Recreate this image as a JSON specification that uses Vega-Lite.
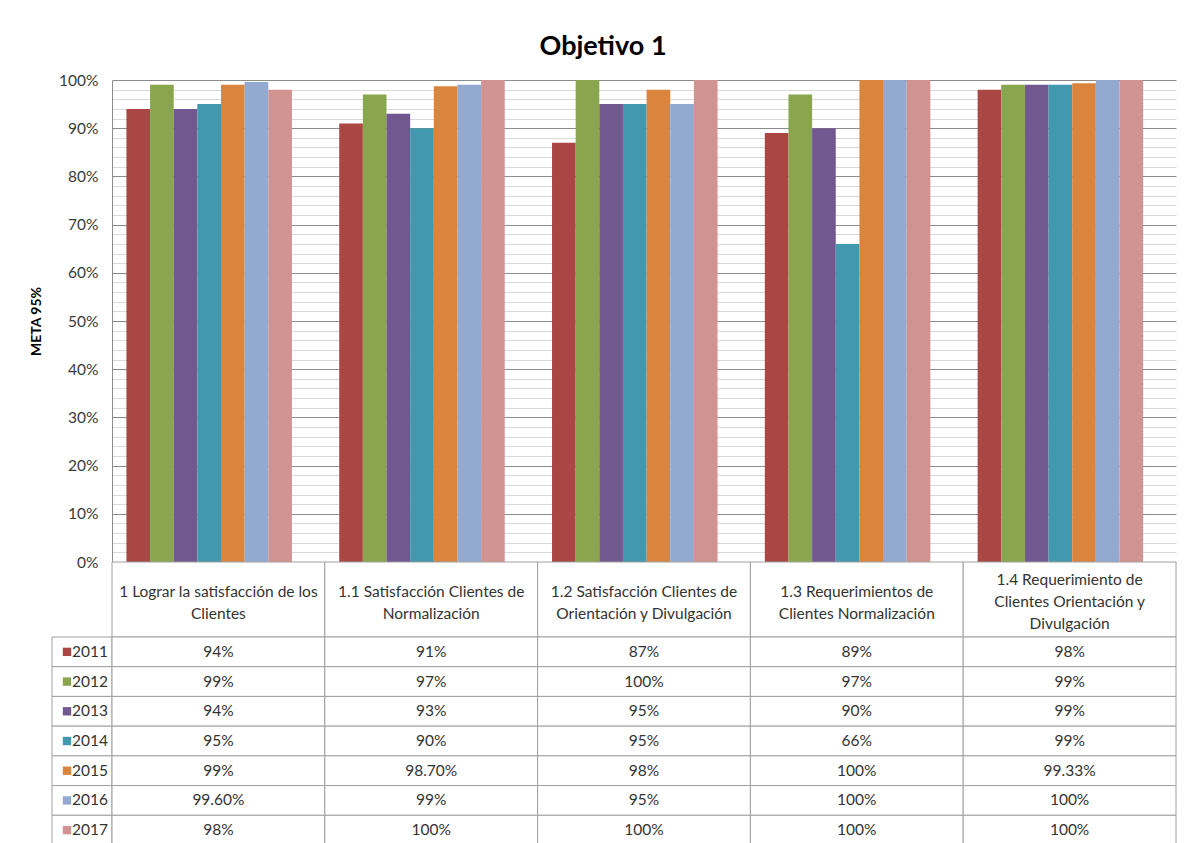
{
  "$schema": "https://vega.github.io/schema/vega-lite/v6.json",
  "padding": {"left": 29, "top": 33, "right": 8, "bottom": 0},
  "background": "white",
  "title": {"text": "Objetivo 1", "font": "Lato", "fontSize": 27, "fontWeight": "bold", "color": "#000000", "anchor": "middle", "offset": 12},
  "config": {
    "view": {"stroke": null},
    "font": "Lato",
    "axis": {"labelFont": "Lato", "titleFont": "Lato"}
  },
  "datasets": {
    "bars": [
      {"cat": "1 Lograr la satisfacción de los Clientes", "year": "2011", "value": 0.94, "label": "94%"},
      {"cat": "1 Lograr la satisfacción de los Clientes", "year": "2012", "value": 0.99, "label": "99%"},
      {"cat": "1 Lograr la satisfacción de los Clientes", "year": "2013", "value": 0.94, "label": "94%"},
      {"cat": "1 Lograr la satisfacción de los Clientes", "year": "2014", "value": 0.95, "label": "95%"},
      {"cat": "1 Lograr la satisfacción de los Clientes", "year": "2015", "value": 0.99, "label": "99%"},
      {"cat": "1 Lograr la satisfacción de los Clientes", "year": "2016", "value": 0.996, "label": "99.60%"},
      {"cat": "1 Lograr la satisfacción de los Clientes", "year": "2017", "value": 0.98, "label": "98%"},
      {"cat": "1.1 Satisfacción Clientes de Normalización", "year": "2011", "value": 0.91, "label": "91%"},
      {"cat": "1.1 Satisfacción Clientes de Normalización", "year": "2012", "value": 0.97, "label": "97%"},
      {"cat": "1.1 Satisfacción Clientes de Normalización", "year": "2013", "value": 0.93, "label": "93%"},
      {"cat": "1.1 Satisfacción Clientes de Normalización", "year": "2014", "value": 0.90, "label": "90%"},
      {"cat": "1.1 Satisfacción Clientes de Normalización", "year": "2015", "value": 0.987, "label": "98.70%"},
      {"cat": "1.1 Satisfacción Clientes de Normalización", "year": "2016", "value": 0.99, "label": "99%"},
      {"cat": "1.1 Satisfacción Clientes de Normalización", "year": "2017", "value": 1.0, "label": "100%"},
      {"cat": "1.2 Satisfacción Clientes de Orientación y Divulgación", "year": "2011", "value": 0.87, "label": "87%"},
      {"cat": "1.2 Satisfacción Clientes de Orientación y Divulgación", "year": "2012", "value": 1.0, "label": "100%"},
      {"cat": "1.2 Satisfacción Clientes de Orientación y Divulgación", "year": "2013", "value": 0.95, "label": "95%"},
      {"cat": "1.2 Satisfacción Clientes de Orientación y Divulgación", "year": "2014", "value": 0.95, "label": "95%"},
      {"cat": "1.2 Satisfacción Clientes de Orientación y Divulgación", "year": "2015", "value": 0.98, "label": "98%"},
      {"cat": "1.2 Satisfacción Clientes de Orientación y Divulgación", "year": "2016", "value": 0.95, "label": "95%"},
      {"cat": "1.2 Satisfacción Clientes de Orientación y Divulgación", "year": "2017", "value": 1.0, "label": "100%"},
      {"cat": "1.3 Requerimientos de Clientes Normalización", "year": "2011", "value": 0.89, "label": "89%"},
      {"cat": "1.3 Requerimientos de Clientes Normalización", "year": "2012", "value": 0.97, "label": "97%"},
      {"cat": "1.3 Requerimientos de Clientes Normalización", "year": "2013", "value": 0.90, "label": "90%"},
      {"cat": "1.3 Requerimientos de Clientes Normalización", "year": "2014", "value": 0.66, "label": "66%"},
      {"cat": "1.3 Requerimientos de Clientes Normalización", "year": "2015", "value": 1.0, "label": "100%"},
      {"cat": "1.3 Requerimientos de Clientes Normalización", "year": "2016", "value": 1.0, "label": "100%"},
      {"cat": "1.3 Requerimientos de Clientes Normalización", "year": "2017", "value": 1.0, "label": "100%"},
      {"cat": "1.4 Requerimiento de Clientes Orientación y Divulgación", "year": "2011", "value": 0.98, "label": "98%"},
      {"cat": "1.4 Requerimiento de Clientes Orientación y Divulgación", "year": "2012", "value": 0.99, "label": "99%"},
      {"cat": "1.4 Requerimiento de Clientes Orientación y Divulgación", "year": "2013", "value": 0.99, "label": "99%"},
      {"cat": "1.4 Requerimiento de Clientes Orientación y Divulgación", "year": "2014", "value": 0.99, "label": "99%"},
      {"cat": "1.4 Requerimiento de Clientes Orientación y Divulgación", "year": "2015", "value": 0.9933, "label": "99.33%"},
      {"cat": "1.4 Requerimiento de Clientes Orientación y Divulgación", "year": "2016", "value": 1.0, "label": "100%"},
      {"cat": "1.4 Requerimiento de Clientes Orientación y Divulgación", "year": "2017", "value": 1.0, "label": "100%"}
    ],
    "header": [
      {"cat": "1 Lograr la satisfacción de los Clientes", "label": "1 Lograr la satisfacción de los\nClientes"},
      {"cat": "1.1 Satisfacción Clientes de Normalización", "label": "1.1 Satisfacción Clientes de\nNormalización"},
      {"cat": "1.2 Satisfacción Clientes de Orientación y Divulgación", "label": "1.2 Satisfacción Clientes de\nOrientación y Divulgación"},
      {"cat": "1.3 Requerimientos de Clientes Normalización", "label": "1.3 Requerimientos de\nClientes Normalización"},
      {"cat": "1.4 Requerimiento de Clientes Orientación y Divulgación", "label": "1.4 Requerimiento de\nClientes Orientación y\nDivulgación"}
    ],
    "years": [
      {"year": "2011"}, {"year": "2012"}, {"year": "2013"}, {"year": "2014"},
      {"year": "2015"}, {"year": "2016"}, {"year": "2017"}
    ]
  },
  "columns": 2,
  "spacing": 0,
  "bounds": "flush",
  "concat": [
    {
      "width": 60, "height": 482,
      "data": {"values": []},
      "mark": {"type": "point", "opacity": 0},
      "encoding": {}
    },
    {
      "width": 1064, "height": 482,
      "data": {"name": "bars"},
      "mark": {"type": "bar"},
      "encoding": {
        "x": {"field": "cat", "type": "nominal", "axis": null,
              "scale": {"domain": ["1 Lograr la satisfacción de los Clientes", "1.1 Satisfacción Clientes de Normalización", "1.2 Satisfacción Clientes de Orientación y Divulgación", "1.3 Requerimientos de Clientes Normalización", "1.4 Requerimiento de Clientes Orientación y Divulgación"], "paddingInner": 0, "paddingOuter": 0}},
        "xOffset": {"field": "year", "type": "nominal",
              "scale": {"domain": ["2011", "2012", "2013", "2014", "2015", "2016", "2017"], "paddingInner": 0, "paddingOuter": 1.245, "align": 0.305}},
        "y": {"field": "value", "type": "quantitative",
              "scale": {"domain": [0, 1], "nice": false},
              "axis": {
                "title": "META 95%", "titleFontSize": 14, "titleFontWeight": "bold", "titleColor": "#000000", "titlePadding": 15,
                "values": [0, 0.02, 0.04, 0.06, 0.08, 0.1, 0.12, 0.14, 0.16, 0.18, 0.2, 0.22, 0.24, 0.26, 0.28, 0.3, 0.32, 0.34, 0.36, 0.38, 0.4, 0.42, 0.44, 0.46, 0.48, 0.5, 0.52, 0.54, 0.56, 0.58, 0.6, 0.62, 0.64, 0.66, 0.68, 0.7, 0.72, 0.74, 0.76, 0.78, 0.8, 0.82, 0.84, 0.86, 0.88, 0.9, 0.92, 0.94, 0.96, 0.98, 1],
                "format": ".0%",
                "labelExpr": "round(datum.value * 100) % 10 === 0 ? datum.label : ''",
                "labelFontSize": 15.5, "labelColor": "#3a3a3a", "labelPadding": 14,
                "ticks": false,
                "domainColor": "#8c8c8c",
                "grid": true,
                "gridColor": {"condition": {"test": "round(datum.value * 100) % 10 === 0", "value": "#8c8c8c"}, "value": "#d9d9d9"},
                "gridWidth": 1
              }},
        "color": {"field": "year", "type": "nominal", "legend": null,
              "scale": {"domain": ["2011", "2012", "2013", "2014", "2015", "2016", "2017"], "range": ["#AA4643", "#89A54E", "#71588F", "#4198AF", "#DB843D", "#93A9CF", "#D19392"]}}
      }
    },
    {
      "width": 60, "height": 75,
      "data": {"values": []},
      "mark": {"type": "point", "opacity": 0},
      "encoding": {}
    },
    {
      "width": 1064, "height": 75,
      "data": {"name": "header"},
      "encoding": {
        "x": {"field": "cat", "type": "nominal", "axis": null,
              "scale": {"domain": ["1 Lograr la satisfacción de los Clientes", "1.1 Satisfacción Clientes de Normalización", "1.2 Satisfacción Clientes de Orientación y Divulgación", "1.3 Requerimientos de Clientes Normalización", "1.4 Requerimiento de Clientes Orientación y Divulgación"], "paddingInner": 0, "paddingOuter": 0}}
      },
      "layer": [
        {"mark": {"type": "rect", "fill": "white", "stroke": "#a0a0a0", "strokeWidth": 1}},
        {"transform": [{"filter": "length(split(datum.label, '\\n')) === 2"}],
         "mark": {"type": "text", "lineBreak": "\n", "fontSize": 15.5, "lineHeight": 22, "color": "#333333", "baseline": "middle", "align": "center", "dy": -8},
         "encoding": {"text": {"field": "label"}}},
        {"transform": [{"filter": "length(split(datum.label, '\\n')) === 3"}],
         "mark": {"type": "text", "lineBreak": "\n", "fontSize": 15.5, "lineHeight": 22, "color": "#333333", "baseline": "middle", "align": "center", "dy": -20},
         "encoding": {"text": {"field": "label"}}}
      ]
    },
    {
      "width": 60, "height": 208,
      "data": {"name": "years"},
      "encoding": {
        "y": {"field": "year", "type": "ordinal", "axis": null, "scale": {"paddingInner": 0, "paddingOuter": 0}}
      },
      "layer": [
        {"mark": {"type": "rect", "fill": "white", "stroke": "#a0a0a0", "strokeWidth": 1}},
        {"mark": {"type": "point", "shape": "square", "filled": true, "size": 70, "opacity": 1, "xOffset": -15},
         "encoding": {"color": {"field": "year", "type": "nominal", "legend": null,
              "scale": {"domain": ["2011", "2012", "2013", "2014", "2015", "2016", "2017"], "range": ["#AA4643", "#89A54E", "#71588F", "#4198AF", "#DB843D", "#93A9CF", "#D19392"]}}}},
        {"mark": {"type": "text", "fontSize": 15.5, "align": "left", "baseline": "middle", "dx": -10, "color": "#333333"},
         "encoding": {"text": {"field": "year"}}}
      ]
    },
    {
      "width": 1064, "height": 208,
      "data": {"name": "bars"},
      "encoding": {
        "x": {"field": "cat", "type": "nominal", "axis": null,
              "scale": {"domain": ["1 Lograr la satisfacción de los Clientes", "1.1 Satisfacción Clientes de Normalización", "1.2 Satisfacción Clientes de Orientación y Divulgación", "1.3 Requerimientos de Clientes Normalización", "1.4 Requerimiento de Clientes Orientación y Divulgación"], "paddingInner": 0, "paddingOuter": 0}},
        "y": {"field": "year", "type": "ordinal", "axis": null, "scale": {"paddingInner": 0, "paddingOuter": 0}}
      },
      "layer": [
        {"mark": {"type": "rect", "fill": "white", "stroke": "#a0a0a0", "strokeWidth": 1}},
        {"mark": {"type": "text", "fontSize": 15.5, "align": "center", "baseline": "middle", "color": "#333333"},
         "encoding": {"text": {"field": "label"}}}
      ]
    }
  ]
}
